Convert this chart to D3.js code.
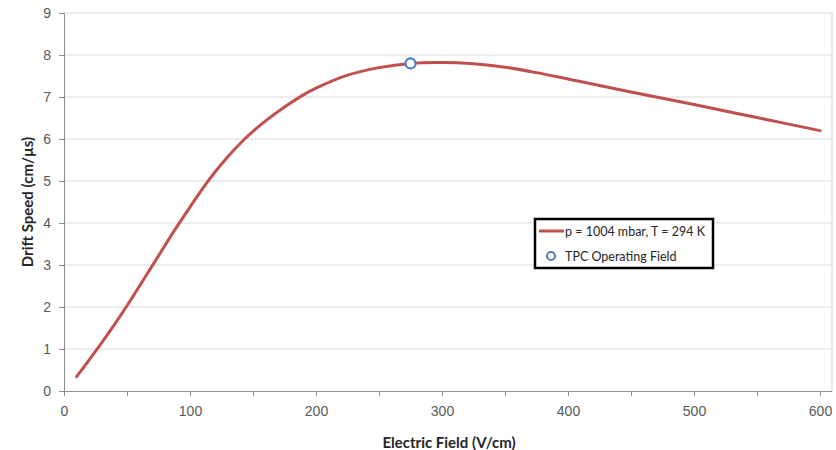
<!DOCTYPE html>
<html>
<head>
<meta charset="utf-8">
<script src="https://cdn.jsdelivr.net/npm/d3@7"></script>
<style>
  html, body { margin: 0; padding: 0; background: #fff; }
  svg { display: block; font-family: Lato, "Open Sans", sans-serif; }
</style>
</head>
<body>
<svg id="chart" width="836" height="450"></svg>
<script>
// Electron drift speed vs. applied electric field
const fieldValues = [10, 20, 30, 40, 50, 60, 70, 80, 90, 100, 110, 120, 130, 140, 150, 160, 175, 190, 200, 225, 250, 275, 300, 325, 350, 375, 400, 450, 500, 550, 600];
const driftSpeed  = [0.34, 0.74, 1.15, 1.58, 2.03, 2.50, 2.98, 3.46, 3.93, 4.38, 4.82, 5.22, 5.58, 5.90, 6.18, 6.43, 6.76, 7.05, 7.21, 7.52, 7.70, 7.80, 7.82, 7.79, 7.71, 7.58, 7.43, 7.12, 6.82, 6.51, 6.20];

// Operating point of the TPC
const operatingField = [275];
const operatingSpeed = [7.8];

const xTicks = [0, 100, 200, 300, 400, 500, 600];
const xMinorTicks = [50, 150, 250, 350, 450, 550];
const yTicks = [0, 1, 2, 3, 4, 5, 6, 7, 8, 9];

const seriesLabel = "p = 1004 mbar, T = 294 K";
const markerLabel = "TPC Operating Field";
const xTitle = "Electric Field (V/cm)";
const yTitle = "Drift Speed (cm/µs)";

const svg = d3.select("#chart");
const plot = { left: 64, right: 832, top: 13, bottom: 391 };

const x = d3.scaleLinear().domain([0, 600]).range([plot.left, 820]);
const y = d3.scaleLinear().domain([0, 9]).range([plot.bottom, plot.top]);

const gridColor = "#d9d9d9";
const axisColor = "#8c8c8c";
const labelColor = "#595959";

// horizontal gridlines
svg.append("g").selectAll("line").data(yTicks.filter(d => d > 0)).join("line")
  .attr("x1", plot.left).attr("x2", plot.right)
  .attr("y1", d => y(d)).attr("y2", d => y(d))
  .attr("stroke", gridColor).attr("stroke-width", 1.2);

// right edge of plot area
svg.append("line")
  .attr("x1", plot.right).attr("x2", plot.right)
  .attr("y1", plot.top).attr("y2", plot.bottom)
  .attr("stroke", gridColor).attr("stroke-width", 1.2);

// y axis
const yAxis = svg.append("g")
  .attr("transform", `translate(${plot.left},0)`)
  .call(d3.axisLeft(y).tickValues(yTicks).tickSize(5).tickPadding(8).tickFormat(d3.format("d")));
yAxis.select(".domain").attr("stroke", axisColor);
yAxis.selectAll(".tick line").attr("stroke", axisColor);
yAxis.selectAll("text").attr("fill", labelColor).style("font-size", "14px");

// x axis (major labelled ticks and unlabelled minor ticks)
const xAxis = svg.append("g")
  .attr("transform", `translate(0,${plot.bottom})`)
  .call(d3.axisBottom(x).tickValues(xTicks).tickSize(5).tickPadding(10).tickFormat(d3.format("d")));
xAxis.select(".domain").attr("d", `M${plot.left},0.5H${plot.right}`).attr("stroke", axisColor);
xAxis.selectAll(".tick line").attr("stroke", axisColor);
xAxis.selectAll("text").attr("fill", labelColor).style("font-size", "14px");

svg.append("g")
  .attr("transform", `translate(0,${plot.bottom})`)
  .call(d3.axisBottom(x).tickValues(xMinorTicks).tickSize(5).tickFormat(""))
  .call(g => g.select(".domain").remove())
  .selectAll(".tick line").attr("stroke", axisColor);

// axis titles
svg.append("text")
  .attr("x", 449).attr("y", 448)
  .attr("text-anchor", "middle")
  .attr("font-weight", "bold").attr("font-size", "15px").attr("fill", "#262626")
  .text(xTitle);

svg.append("text")
  .attr("transform", `translate(33,${(plot.top + plot.bottom) / 2}) rotate(-90)`)
  .attr("text-anchor", "middle")
  .attr("font-weight", "bold").attr("font-size", "15px").attr("fill", "#262626")
  .text(yTitle);

// drift speed curve
const curveData = fieldValues.map((f, i) => [f, driftSpeed[i]]);
svg.append("path")
  .datum(curveData)
  .attr("fill", "none")
  .attr("stroke", "#c0504d")
  .attr("stroke-width", 3)
  .attr("stroke-linecap", "round")
  .attr("d", d3.line().x(d => x(d[0])).y(d => y(d[1])).curve(d3.curveCatmullRom.alpha(0.5)));

// operating point marker
svg.append("g").selectAll("circle")
  .data(operatingField.map((f, i) => [f, operatingSpeed[i]]))
  .join("circle")
  .attr("cx", d => x(d[0])).attr("cy", d => y(d[1]))
  .attr("r", 5)
  .attr("fill", "#fff").attr("stroke", "#4f81bd").attr("stroke-width", 2.2);

// legend
const legend = svg.append("g");
legend.append("rect")
  .attr("x", 535).attr("y", 219).attr("width", 178).attr("height", 49)
  .attr("fill", "#fff").attr("stroke", "#000").attr("stroke-width", 2.5);
legend.append("line")
  .attr("x1", 539).attr("x2", 564).attr("y1", 231).attr("y2", 231)
  .attr("stroke", "#c0504d").attr("stroke-width", 3);
legend.append("text")
  .attr("x", 565).attr("y", 235.5)
  .attr("font-size", "12.5px").attr("fill", "#262626")
  .text(seriesLabel);
legend.append("circle")
  .attr("cx", 551).attr("cy", 256).attr("r", 4)
  .attr("fill", "#fff").attr("stroke", "#4f81bd").attr("stroke-width", 2.2);
legend.append("text")
  .attr("x", 565).attr("y", 260.5)
  .attr("font-size", "12.5px").attr("fill", "#262626")
  .text(markerLabel);
</script>
</body>
</html>
